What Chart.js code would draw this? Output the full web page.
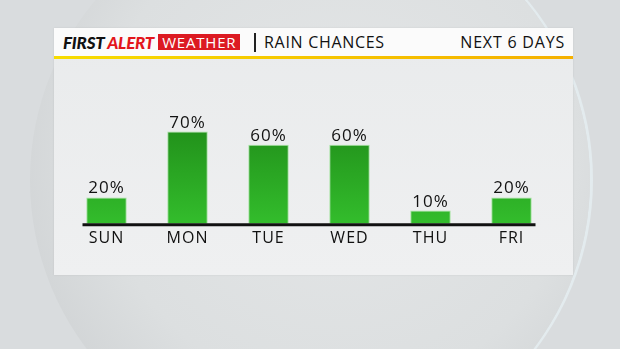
<!DOCTYPE html>
<html>
<head>
<meta charset="utf-8">
<script src="https://cdn.jsdelivr.net/npm/chart.js@4/dist/chart.umd.min.js"></script>
<style>
  html, body { margin: 0; padding: 0; }
  body {
    width: 620px; height: 349px; overflow: hidden; position: relative;
    background: #d9dcde;
  }
  .sphere {
    position: absolute; left: 30px; top: -100px; width: 560px; height: 560px;
    border-radius: 50%;
    background: radial-gradient(circle at 55% 45%, #e4e6e7 0%, #dcdfe0 55%, #cdd0d2 85%, #bcbfc1 100%);
    box-shadow: 3px 0 0 #e3ebee;
  }
  .panel {
    position: absolute; left: 54px; top: 28px; width: 519px; height: 247px;
    background: linear-gradient(#e9ebec, #eff0f1);
    box-shadow: 0 0 2px rgba(0,0,0,0.08);
  }
  .header {
    position: absolute; left: 0; top: 0; width: 100%; height: 28px;
    background: #fbfbfb;
    border-bottom: 3px solid #f5c400;
    border-image: linear-gradient(90deg, #f7dc00, #f5b000) 1;
    font-family: "Open Sans", sans-serif; font-weight: 500;
  }
  .brand {
    position: absolute; left: 9px; top: 4px; font-family: Lato, sans-serif;
    font-weight: 900; font-style: italic; font-size: 17px; letter-spacing: -0.2px;
    color: #111; white-space: nowrap;
  }
  .brand .red { color: #e3161c; }
  .brand .box {
    display: inline-block; background: #dc1a22; color: #fff; font-style: normal;
    font-weight: 400; font-family: "Open Sans", sans-serif; font-size: 15px;
    letter-spacing: 0.8px; padding: 0 4px; height: 16px; line-height: 16px; margin-left: 4px;
    position: relative; top: -1px;
  }
  .sep { position: absolute; left: 200px; top: 5px; width: 2px; height: 19px; background: #222; }
  .title { position: absolute; left: 210px; top: 3px; font-size: 16px; letter-spacing: 0.7px; color: #111; }
  .days { position: absolute; right: 8px; top: 3px; font-size: 16px; letter-spacing: 0.8px; color: #111; }
  canvas { position: absolute; left: 0; top: 0; }
</style>
</head>
<body>
<div class="sphere"></div>
<div class="panel">
  <div class="header">
    <div class="brand">FIRST <span class="red">ALERT</span><span class="box">WEATHER</span></div>
    <div class="sep"></div>
    <div class="title">RAIN CHANCES</div>
    <div class="days">NEXT 6 DAYS</div>
  </div>
</div>
<canvas id="rainChart" width="620" height="349"></canvas>
<script>
const days = ["SUN", "MON", "TUE", "WED", "THU", "FRI"];
const rainChance = [20, 70, 60, 60, 10, 20];

function barGradient(context) {
  const chart = context.chart;
  const area = chart.chartArea;
  if (!area) return "#2aa824";
  const y = chart.scales.y;
  const g = chart.ctx.createLinearGradient(0, y.getPixelForValue(70), 0, y.getPixelForValue(0));
  g.addColorStop(0, "#22921b");
  g.addColorStop(1, "#33bd2c");
  return g;
}

// labels over the bars + the black base line
const labelsPlugin = {
  id: "rainLabels",
  beforeDraw(chart) {
    chart.ctx.letterSpacing = "1px";
  },
  afterDatasetsDraw(chart) {
    const ctx = chart.ctx;
    const x = chart.scales.x;
    const y = chart.scales.y;
    const meta = chart.getDatasetMeta(0);
    ctx.save();
    ctx.strokeStyle = "#111";
    ctx.lineWidth = 3;
    ctx.beginPath();
    ctx.moveTo(x.getPixelForValue(0) - 24, y.getPixelForValue(0) + 1);
    ctx.lineTo(x.getPixelForValue(days.length - 1) + 24, y.getPixelForValue(0) + 1);
    ctx.stroke();
    ctx.fillStyle = "#111";
    ctx.font = "500 17px 'Open Sans'";
    ctx.letterSpacing = "1px";
    ctx.textAlign = "center";
    ctx.textBaseline = "alphabetic";
    meta.data.forEach(function (bar, i) {
      ctx.fillText(rainChance[i] + "%", bar.x, bar.y - 4);
    });
    ctx.restore();
  },
};

new Chart(document.getElementById("rainChart"), {
  type: "bar",
  data: {
    labels: days,
    datasets: [
      {
        data: rainChance,
        backgroundColor: barGradient,
        borderColor: "rgba(120,220,110,0.6)",
        borderWidth: 1,
        barPercentage: 0.5,
        categoryPercentage: 1,
      },
    ],
  },
  options: {
    responsive: false,
    animation: false,
    layout: { padding: { left: 66, right: 68, top: 92, bottom: 96 } },
    plugins: { legend: { display: false }, tooltip: { enabled: false } },
    scales: {
      x: {
        grid: { display: false, drawTicks: false },
        border: { display: false },
        ticks: { color: "#111", font: { family: "Open Sans", size: 16, weight: "500" }, padding: 5 },
      },
      y: { display: false, min: 0, max: 100 },
    },
  },
  plugins: [labelsPlugin],
});
</script>
</body>
</html>
